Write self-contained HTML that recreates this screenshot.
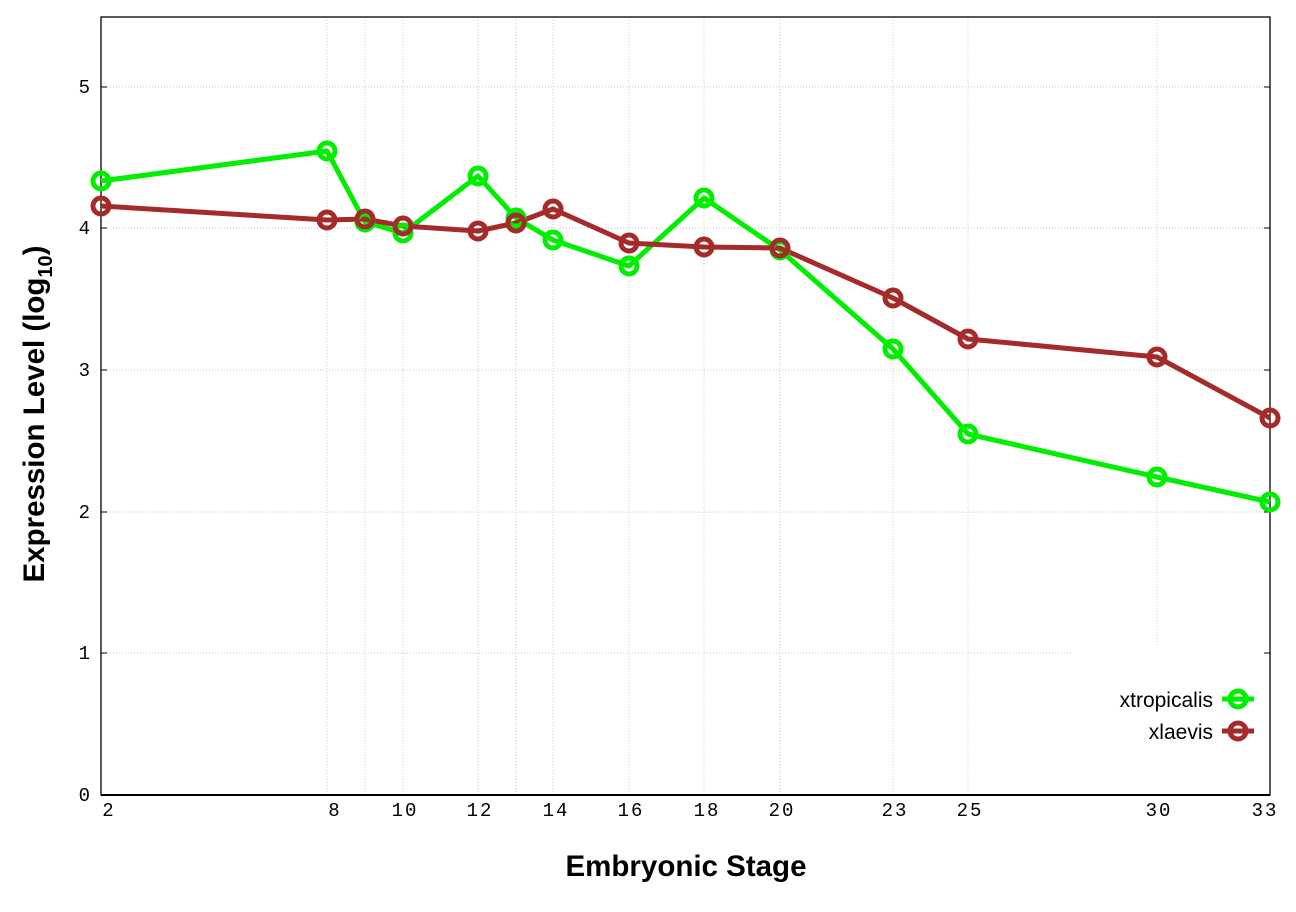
<!DOCTYPE html>
<html><head><style>body{margin:0;background:#fff}</style></head><body>
<svg width="1296" height="907" xmlns="http://www.w3.org/2000/svg">
<rect width="1296" height="907" fill="#fff"/>
<g stroke="#c8c8c8" stroke-width="1" stroke-dasharray="1,2">
<line x1="101" x2="1270" y1="653" y2="653"/><line x1="101" x2="1270" y1="512" y2="512"/>
<line x1="101" x2="1270" y1="370" y2="370"/><line x1="101" x2="1270" y1="228" y2="228"/>
<line x1="101" x2="1270" y1="87" y2="87"/>
<line x1="327" x2="327" y1="17" y2="795"/><line x1="365" x2="365" y1="17" y2="795"/>
<line x1="403" x2="403" y1="17" y2="795"/><line x1="478" x2="478" y1="17" y2="795"/>
<line x1="516" x2="516" y1="17" y2="795"/><line x1="553" x2="553" y1="17" y2="795"/>
<line x1="629" x2="629" y1="17" y2="795"/><line x1="704" x2="704" y1="17" y2="795"/>
<line x1="780" x2="780" y1="17" y2="795"/><line x1="893" x2="893" y1="17" y2="795"/>
<line x1="968" x2="968" y1="17" y2="795"/><line x1="1157" x2="1157" y1="17" y2="795"/>
</g>
<rect x="1072" y="645" width="197" height="149" fill="#fff"/>
<rect x="101" y="17" width="1169" height="778" fill="none" stroke="#000" stroke-width="1.3"/>
<line x1="101" x2="1270" y1="795" y2="795" stroke="#000" stroke-width="2"/>
<g stroke="#000" stroke-width="1">
<line x1="101" x2="107" y1="653" y2="653"/><line x1="101" x2="107" y1="512" y2="512"/><line x1="101" x2="107" y1="370" y2="370"/><line x1="101" x2="107" y1="228" y2="228"/><line x1="101" x2="107" y1="87" y2="87"/>
<line x1="1264" x2="1270" y1="653" y2="653"/><line x1="1264" x2="1270" y1="512" y2="512"/><line x1="1264" x2="1270" y1="370" y2="370"/><line x1="1264" x2="1270" y1="228" y2="228"/><line x1="1264" x2="1270" y1="87" y2="87"/>
</g>
<g font-family="Liberation Mono, monospace" font-size="19" fill="#000" text-anchor="end">
<text x="90" y="801">0</text><text x="90" y="659">1</text><text x="90" y="518">2</text><text x="90" y="376">3</text><text x="90" y="234">4</text><text x="90" y="93">5</text>
</g>
<g font-family="Liberation Mono, monospace" font-size="19" fill="#000" text-anchor="middle" letter-spacing="2">
<text x="109" y="816">2</text><text x="335" y="816">8</text><text x="405" y="816">10</text><text x="480" y="816">12</text><text x="556" y="816">14</text><text x="631" y="816">16</text><text x="707" y="816">18</text><text x="782" y="816">20</text><text x="895" y="816">23</text><text x="970" y="816">25</text><text x="1159" y="816">30</text><text x="1265" y="816">33</text>
</g>
<text x="686" y="876" font-family="Liberation Sans, sans-serif" font-weight="bold" font-size="29.5" text-anchor="middle">Embryonic Stage</text>
<text transform="translate(44,414) rotate(-90)" font-family="Liberation Sans, sans-serif" font-weight="bold" font-size="29.5" text-anchor="middle">Expression Level (log<tspan font-size="20" dy="8">10</tspan><tspan dy="-8">)</tspan></text>
<g fill="none" stroke-width="5" stroke-linejoin="round">
<polyline stroke="#00ee00" points="101,181 327,151 365,222 403,233 478,176 516,218 553,240 629,266 704,198 780,250 893,349 968,434 1157,477 1270,502"/>
<polyline stroke="#a52a2a" points="101,206 327,220 365,219 403,226 478,231 516,223 553,209 629,243 704,247 780,248 893,298 968,339 1157,357 1270,418"/>
<g stroke="#00ee00" stroke-width="5" fill="none">
<circle cx="101" cy="181" r="8"/><circle cx="327" cy="151" r="8"/><circle cx="365" cy="222" r="8"/><circle cx="403" cy="233" r="8"/><circle cx="478" cy="176" r="8"/><circle cx="516" cy="218" r="8"/><circle cx="553" cy="240" r="8"/><circle cx="629" cy="266" r="8"/><circle cx="704" cy="198" r="8"/><circle cx="780" cy="250" r="8"/><circle cx="893" cy="349" r="8"/><circle cx="968" cy="434" r="8"/><circle cx="1157" cy="477" r="8"/><circle cx="1270" cy="502" r="8"/>
</g>
<g stroke="#a52a2a" stroke-width="5" fill="none">
<circle cx="101" cy="206" r="8"/><circle cx="327" cy="220" r="8"/><circle cx="365" cy="219" r="8"/><circle cx="403" cy="226" r="8"/><circle cx="478" cy="231" r="8"/><circle cx="516" cy="223" r="8"/><circle cx="553" cy="209" r="8"/><circle cx="629" cy="243" r="8"/><circle cx="704" cy="247" r="8"/><circle cx="780" cy="248" r="8"/><circle cx="893" cy="298" r="8"/><circle cx="968" cy="339" r="8"/><circle cx="1157" cy="357" r="8"/><circle cx="1270" cy="418" r="8"/>
</g>
<line x1="1222" x2="1254" y1="699" y2="699" stroke="#00ee00"/><circle cx="1238" cy="699" r="8" stroke="#00ee00" stroke-width="5"/>
<line x1="1222" x2="1254" y1="731" y2="731" stroke="#a52a2a"/><circle cx="1238" cy="731" r="8" stroke="#a52a2a" stroke-width="5"/>
</g>
<g font-family="Liberation Sans, sans-serif" font-size="21" text-anchor="end" fill="#000">
<text x="1213" y="707">xtropicalis</text><text x="1213" y="739">xlaevis</text>
</g>
</svg>
</body></html>
